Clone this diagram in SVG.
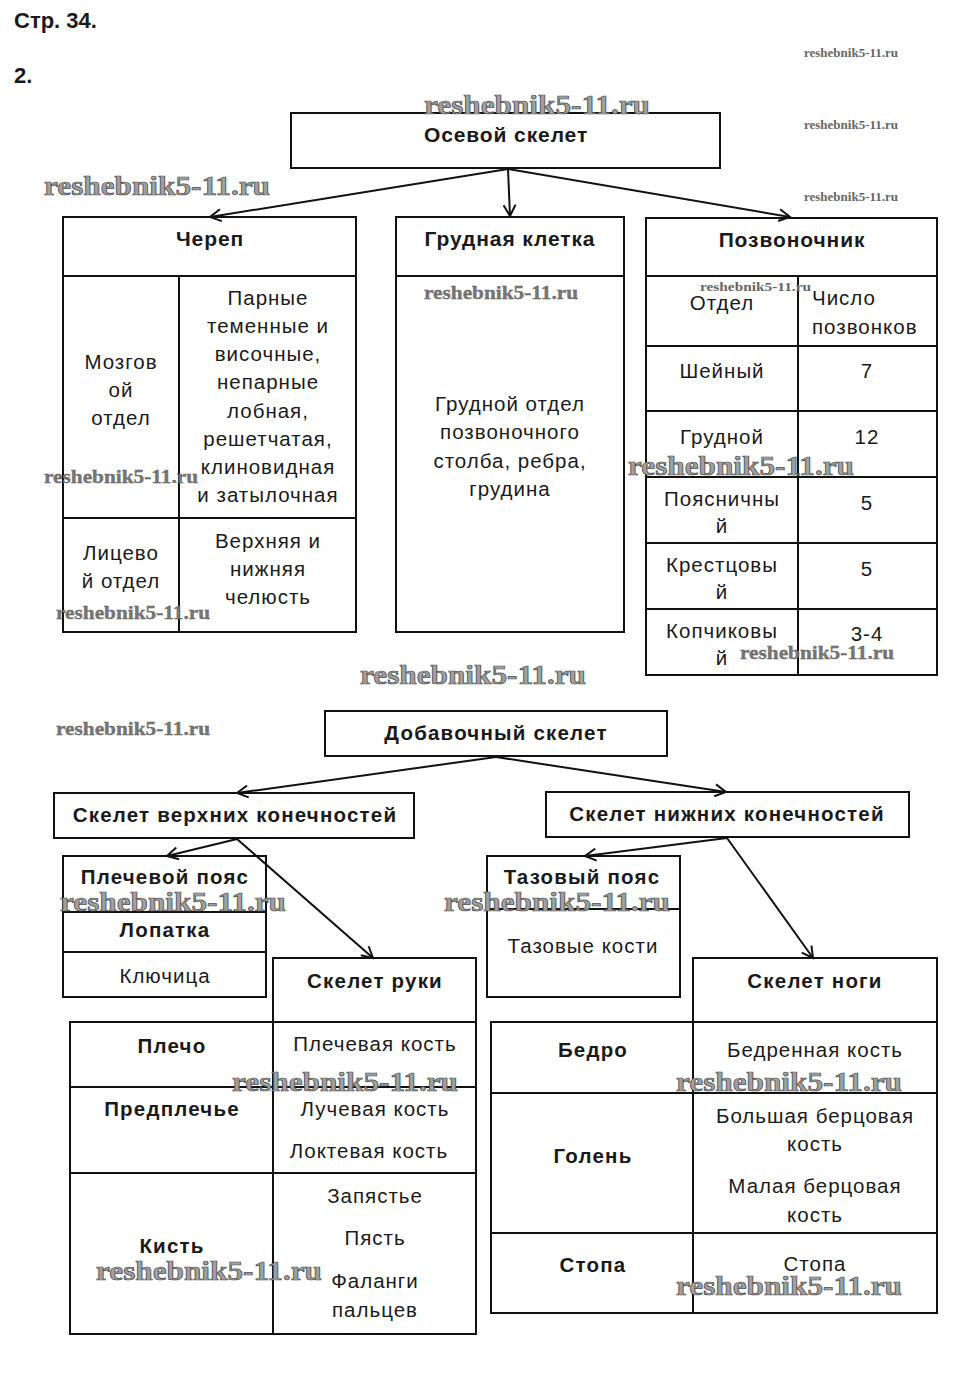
<svg xmlns="http://www.w3.org/2000/svg" width="953" height="1385" viewBox="0 0 953 1385">
<style>
.box{fill:none;stroke:#111;stroke-width:2}
.ln{stroke:#111;stroke-width:2;fill:none}
.con{stroke:#111;stroke-width:2;fill:none;marker-end:url(#arr)}
text{font-family:"Liberation Sans",Arial,sans-serif;fill:#1a1a1a}
.b{font-weight:bold;font-size:20.5px;letter-spacing:1.2px;text-anchor:middle}
.r{font-size:20.5px;letter-spacing:1px;text-anchor:middle}
.h{font-weight:bold;font-size:21px;letter-spacing:0.9px;text-anchor:middle}
.t{font-weight:bold;font-size:22px}
.wm{font-family:"Liberation Serif","Times New Roman",serif;font-weight:bold}
.wmL{font-size:27px;fill:#a0a0a0;stroke:#4a4a4a;stroke-width:0.7}
.wmM{font-size:18px;fill:#777;stroke:#555;stroke-width:0.3}
.wmS{font-size:11.5px;fill:#666}
</style>
<defs>
<marker id="arr" markerUnits="userSpaceOnUse" markerWidth="14" markerHeight="14" viewBox="0 0 14 14" refX="12" refY="7" orient="auto">
<path d="M1,1 L12,7 L1,13" fill="none" stroke="#111" stroke-width="2"/>
</marker>
</defs>
<rect width="953" height="1385" fill="#fff"/>

<g id="title">
<text class="t" x="14" y="28">Стр. 34.</text>
<text class="t" x="14" y="83">2.</text>
</g>

<g id="connectors">
<line class="con" x1="508" y1="169" x2="210" y2="217"/>
<line class="con" x1="508" y1="169" x2="510" y2="216"/>
<line class="con" x1="508" y1="169" x2="790" y2="217"/>
<line class="con" x1="496" y1="757" x2="237" y2="793"/>
<line class="con" x1="496" y1="757" x2="726" y2="792"/>
<line class="con" x1="237" y1="839" x2="167" y2="856"/>
<line class="con" x1="237" y1="839" x2="373" y2="958"/>
<line class="con" x1="727" y1="838" x2="585" y2="856"/>
<line class="con" x1="727" y1="838" x2="813" y2="958"/>
</g>

<g id="osevoi">
<rect class="box" x="291" y="113" width="429" height="55"/>
<text class="h" x="506" y="142">Осевой скелет</text>
</g>

<g id="cherep">
<rect class="box" x="63" y="217" width="293" height="415"/>
<line class="ln" x1="63" y1="276" x2="356" y2="276"/>
<line class="ln" x1="179" y1="276" x2="179" y2="632"/>
<line class="ln" x1="63" y1="518" x2="356" y2="518"/>
<text class="h" x="210" y="246">Череп</text>
<text class="r" x="121" y="369">Мозгов</text>
<text class="r" x="121" y="397">ой</text>
<text class="r" x="121" y="425">отдел</text>
<text class="r" x="268" y="305">Парные</text>
<text class="r" x="268" y="333">теменные и</text>
<text class="r" x="268" y="361">височные,</text>
<text class="r" x="268" y="389">непарные</text>
<text class="r" x="268" y="418">лобная,</text>
<text class="r" x="268" y="446">решетчатая,</text>
<text class="r" x="268" y="474">клиновидная</text>
<text class="r" x="268" y="502">и затылочная</text>
<text class="r" x="121" y="560">Лицево</text>
<text class="r" x="121" y="588">й отдел</text>
<text class="r" x="268" y="548">Верхняя и</text>
<text class="r" x="268" y="576">нижняя</text>
<text class="r" x="268" y="604">челюсть</text>
</g>

<g id="grudnaya">
<rect class="box" x="396" y="217" width="228" height="415"/>
<line class="ln" x1="396" y1="276" x2="624" y2="276"/>
<text class="h" x="510" y="246">Грудная клетка</text>
<text class="r" x="510" y="411">Грудной отдел</text>
<text class="r" x="510" y="439">позвоночного</text>
<text class="r" x="510" y="468">столба, ребра,</text>
<text class="r" x="510" y="496">грудина</text>
</g>

<g id="pozvonochnik">
<rect class="box" x="646" y="218" width="291" height="457"/>
<line class="ln" x1="646" y1="276" x2="937" y2="276"/>
<line class="ln" x1="798" y1="276" x2="798" y2="675"/>
<line class="ln" x1="646" y1="346" x2="937" y2="346"/>
<line class="ln" x1="646" y1="411" x2="937" y2="411"/>
<line class="ln" x1="646" y1="477" x2="937" y2="477"/>
<line class="ln" x1="646" y1="543" x2="937" y2="543"/>
<line class="ln" x1="646" y1="609" x2="937" y2="609"/>
<text class="h" x="792" y="247">Позвоночник</text>
<text class="r" x="722" y="310">Отдел</text>
<text class="r" x="812" y="305" style="text-anchor:start">Число</text>
<text class="r" x="812" y="334" style="text-anchor:start">позвонков</text>
<text class="r" x="722" y="378">Шейный</text>
<text class="r" x="867" y="378">7</text>
<text class="r" x="722" y="444">Грудной</text>
<text class="r" x="867" y="444">12</text>
<text class="r" x="722" y="506">Поясничны</text>
<text class="r" x="722" y="533">й</text>
<text class="r" x="867" y="510">5</text>
<text class="r" x="722" y="572">Крестцовы</text>
<text class="r" x="722" y="599">й</text>
<text class="r" x="867" y="576">5</text>
<text class="r" x="722" y="638">Копчиковы</text>
<text class="r" x="722" y="665">й</text>
<text class="r" x="867" y="641">3-4</text>
</g>

<g id="dobavochny">
<rect class="box" x="325" y="711" width="342" height="45"/>
<text class="b" x="496" y="740">Добавочный скелет</text>
</g>

<g id="verkhnie">
<rect class="box" x="54" y="793" width="360" height="45"/>
<text class="b" x="235" y="822">Скелет верхних конечностей</text>
</g>

<g id="nizhnie">
<rect class="box" x="546" y="792" width="363" height="45"/>
<text class="b" x="727" y="821">Скелет нижних конечностей</text>
</g>

<g id="plechevoi">
<rect class="box" x="63" y="856" width="203" height="141"/>
<line class="ln" x1="63" y1="912" x2="266" y2="912"/>
<line class="ln" x1="63" y1="952" x2="266" y2="952"/>
<text class="b" x="165" y="884">Плечевой пояс</text>
<text class="b" x="165" y="937">Лопатка</text>
<text class="r" x="165" y="983">Ключица</text>
</g>

<g id="tazovy">
<rect class="box" x="487" y="856" width="193" height="141"/>
<line class="ln" x1="487" y1="909" x2="680" y2="909"/>
<text class="b" x="582" y="884">Тазовый пояс</text>
<text class="r" x="583" y="953">Тазовые кости</text>
</g>

<g id="skelet-ruki">
<rect class="box" x="273" y="958" width="203" height="64"/>
<rect class="box" x="70" y="1022" width="406" height="312"/>
<line class="ln" x1="273" y1="1022" x2="273" y2="1334"/>
<line class="ln" x1="70" y1="1087" x2="476" y2="1087"/>
<line class="ln" x1="70" y1="1173" x2="476" y2="1173"/>
<text class="b" x="375" y="988">Скелет руки</text>
<text class="b" x="172" y="1053">Плечо</text>
<text class="r" x="375" y="1051">Плечевая кость</text>
<text class="b" x="172" y="1116">Предплечье</text>
<text class="r" x="375" y="1116">Лучевая кость</text>
<text class="r" x="369" y="1158">Локтевая кость</text>
<text class="b" x="172" y="1253">Кисть</text>
<text class="r" x="375" y="1203">Запястье</text>
<text class="r" x="375" y="1245">Пясть</text>
<text class="r" x="375" y="1288">Фаланги</text>
<text class="r" x="375" y="1317">пальцев</text>
</g>

<g id="skelet-nogi">
<rect class="box" x="693" y="958" width="244" height="64"/>
<rect class="box" x="491" y="1022" width="446" height="291"/>
<line class="ln" x1="693" y1="1022" x2="693" y2="1313"/>
<line class="ln" x1="491" y1="1093" x2="937" y2="1093"/>
<line class="ln" x1="491" y1="1233" x2="937" y2="1233"/>
<text class="b" x="815" y="988">Скелет ноги</text>
<text class="b" x="593" y="1057">Бедро</text>
<text class="r" x="815" y="1057">Бедренная кость</text>
<text class="b" x="593" y="1163">Голень</text>
<text class="r" x="815" y="1123">Большая берцовая</text>
<text class="r" x="815" y="1151">кость</text>
<text class="r" x="815" y="1193">Малая берцовая</text>
<text class="r" x="815" y="1222">кость</text>
<text class="b" x="593" y="1272">Стопа</text>
<text class="r" x="815" y="1271">Стопа</text>
</g>

<g id="watermarks" class="wm">
<text class="wm wmS" x="804" y="57" textLength="94" lengthAdjust="spacingAndGlyphs">reshebnik5-11.ru</text>
<text class="wm wmS" x="804" y="129" textLength="94" lengthAdjust="spacingAndGlyphs">reshebnik5-11.ru</text>
<text class="wm wmS" x="804" y="201" textLength="94" lengthAdjust="spacingAndGlyphs">reshebnik5-11.ru</text>
<text class="wm wmS" x="700" y="291" textLength="111" lengthAdjust="spacingAndGlyphs">reshebnik5-11.ru</text>
<text class="wm wmL" x="424" y="114" textLength="226" lengthAdjust="spacingAndGlyphs">reshebnik5-11.ru</text>
<text class="wm wmL" x="44" y="195" textLength="226" lengthAdjust="spacingAndGlyphs">reshebnik5-11.ru</text>
<text class="wm wmM" x="424" y="299" textLength="154" lengthAdjust="spacingAndGlyphs">reshebnik5-11.ru</text>
<text class="wm wmM" x="44" y="483" textLength="154" lengthAdjust="spacingAndGlyphs">reshebnik5-11.ru</text>
<text class="wm wmM" x="56" y="619" textLength="154" lengthAdjust="spacingAndGlyphs">reshebnik5-11.ru</text>
<text class="wm wmL" x="628" y="475" textLength="226" lengthAdjust="spacingAndGlyphs">reshebnik5-11.ru</text>
<text class="wm wmM" x="740" y="659" textLength="154" lengthAdjust="spacingAndGlyphs">reshebnik5-11.ru</text>
<text class="wm wmL" x="360" y="684" textLength="226" lengthAdjust="spacingAndGlyphs">reshebnik5-11.ru</text>
<text class="wm wmM" x="56" y="735" textLength="154" lengthAdjust="spacingAndGlyphs">reshebnik5-11.ru</text>
<text class="wm wmL" x="60" y="911" textLength="226" lengthAdjust="spacingAndGlyphs">reshebnik5-11.ru</text>
<text class="wm wmL" x="444" y="911" textLength="226" lengthAdjust="spacingAndGlyphs">reshebnik5-11.ru</text>
<text class="wm wmL" x="232" y="1091" textLength="226" lengthAdjust="spacingAndGlyphs">reshebnik5-11.ru</text>
<text class="wm wmL" x="676" y="1091" textLength="226" lengthAdjust="spacingAndGlyphs">reshebnik5-11.ru</text>
<text class="wm wmL" x="96" y="1280" textLength="226" lengthAdjust="spacingAndGlyphs">reshebnik5-11.ru</text>
<text class="wm wmL" x="676" y="1295" textLength="226" lengthAdjust="spacingAndGlyphs">reshebnik5-11.ru</text>
</g>
</svg>
